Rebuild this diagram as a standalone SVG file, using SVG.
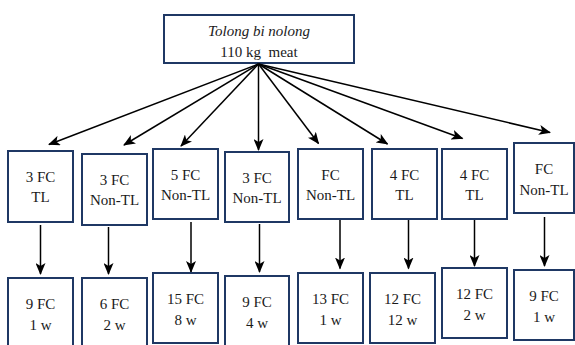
<svg xmlns="http://www.w3.org/2000/svg" width="575" height="345" viewBox="0 0 575 345">
<style>
.box{fill:#fff;stroke:#1f3864;stroke-width:2}
.t{font-family:"Liberation Serif","Times New Roman",serif;font-size:15px;fill:#1a1a1a;text-anchor:middle}
.c{stroke:#000;stroke-width:1.5;fill:none;marker-end:url(#ah)}
</style>
<defs>
<marker id="ah" viewBox="0 0 12 10" refX="11" refY="5" markerWidth="12" markerHeight="10" markerUnits="userSpaceOnUse" orient="auto">
<path d="M0,0 L12,5 L0,10 L3,5 z" fill="#000"/>
</marker>
</defs>
<rect width="575" height="345" fill="#fff"/>
<g id="top">
<rect class="box" x="164" y="15" width="190" height="48"/>
<text class="t" x="259" y="36" font-style="italic">Tolong bi nolong</text>
<text class="t" x="259" y="57" xml:space="preserve" style="white-space:pre">110 kg  meat</text>
</g>
<g id="connectors">
<line class="c" x1="258.5" y1="64" x2="49" y2="144.5"/>
<line class="c" x1="258.5" y1="64" x2="124" y2="145"/>
<line class="c" x1="258.5" y1="64" x2="181" y2="146"/>
<line class="c" x1="258.5" y1="64" x2="258.5" y2="150"/>
<line class="c" x1="258.5" y1="64" x2="318.5" y2="143.5"/>
<line class="c" x1="258.5" y1="64" x2="387.5" y2="144"/>
<line class="c" x1="258.5" y1="64" x2="462.5" y2="138.5"/>
<line class="c" x1="258.5" y1="64" x2="550" y2="132.5"/>
<line class="c" x1="40.5" y1="225" x2="40.5" y2="274"/>
<line class="c" x1="108.5" y1="227" x2="108.5" y2="274"/>
<line class="c" x1="191" y1="222" x2="191" y2="272"/>
<line class="c" x1="259.5" y1="224" x2="259.5" y2="272"/>
<line class="c" x1="340" y1="220" x2="340" y2="268.5"/>
<line class="c" x1="408.5" y1="220" x2="408.5" y2="268.5"/>
<line class="c" x1="474.5" y1="218" x2="474.5" y2="266"/>
<line class="c" x1="544.5" y1="217" x2="544.5" y2="266"/>
</g>
<g id="n1"><rect class="box" x="8" y="151" width="65" height="71"/><text class="t" x="40.5" y="182">3 FC</text><text class="t" x="40.5" y="202">TL</text></g>
<g id="n2"><rect class="box" x="82" y="154" width="65" height="71"/><text class="t" x="114.5" y="185">3 FC</text><text class="t" x="114.5" y="205">Non-TL</text></g>
<g id="n3"><rect class="box" x="153" y="149" width="65" height="70"/><text class="t" x="185.5" y="179.5">5 FC</text><text class="t" x="185.5" y="199.5">Non-TL</text></g>
<g id="n4"><rect class="box" x="225" y="152" width="64" height="70"/><text class="t" x="257" y="182.5">3 FC</text><text class="t" x="257" y="202.5">Non-TL</text></g>
<g id="n5"><rect class="box" x="298" y="149" width="65" height="70"/><text class="t" x="330.5" y="179.5">FC</text><text class="t" x="330.5" y="199.5">Non-TL</text></g>
<g id="n6"><rect class="box" x="372" y="149" width="65" height="70"/><text class="t" x="404.5" y="179.5">4 FC</text><text class="t" x="404.5" y="199.5">TL</text></g>
<g id="n7"><rect class="box" x="442" y="149" width="65" height="70"/><text class="t" x="474.5" y="179.5">4 FC</text><text class="t" x="474.5" y="199.5">TL</text></g>
<g id="n8"><rect class="box" x="514" y="143" width="60" height="70"/><text class="t" x="544" y="174">FC</text><text class="t" x="544" y="195">Non-TL</text></g>
<g id="m1"><rect class="box" x="8" y="278" width="65" height="72"/><text class="t" x="40.5" y="308.5">9 FC</text><text class="t" x="40.5" y="330">1 w</text></g>
<g id="m2"><rect class="box" x="82" y="278" width="65" height="72"/><text class="t" x="114.5" y="308.5">6 FC</text><text class="t" x="114.5" y="330">2 w</text></g>
<g id="m3"><rect class="box" x="153" y="273" width="65" height="70"/><text class="t" x="185.5" y="303.5">15 FC</text><text class="t" x="185.5" y="324.5">8 w</text></g>
<g id="m4"><rect class="box" x="225" y="276" width="64" height="74"/><text class="t" x="257" y="306.5">9 FC</text><text class="t" x="257" y="327.5">4 w</text></g>
<g id="m5"><rect class="box" x="298" y="273" width="65" height="70"/><text class="t" x="330.5" y="303.5">13 FC</text><text class="t" x="330.5" y="324.5">1 w</text></g>
<g id="m6"><rect class="box" x="370" y="273" width="65" height="70"/><text class="t" x="402.5" y="303.5">12 FC</text><text class="t" x="402.5" y="324.5">12 w</text></g>
<g id="m7"><rect class="box" x="442" y="268" width="65" height="70"/><text class="t" x="474.5" y="298.5">12 FC</text><text class="t" x="474.5" y="319.5">2 w</text></g>
<g id="m8"><rect class="box" x="514" y="270" width="60" height="70"/><text class="t" x="544" y="301">9 FC</text><text class="t" x="544" y="322">1 w</text></g>
</svg>
